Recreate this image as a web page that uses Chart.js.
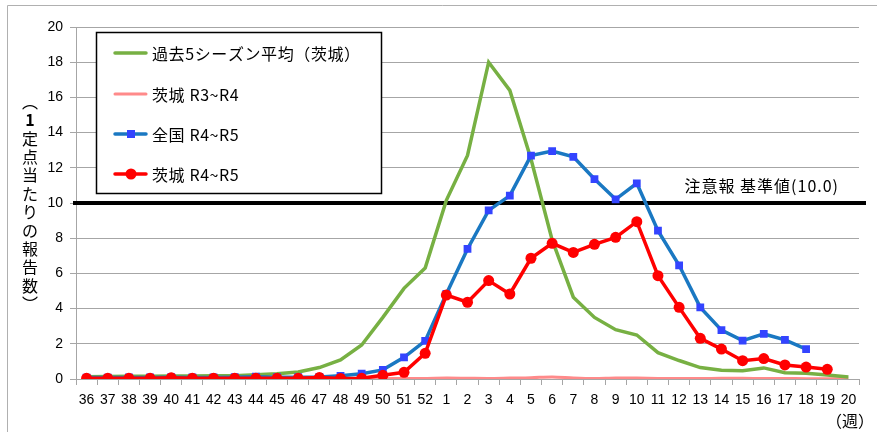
<!DOCTYPE html>
<html>
<head>
<meta charset="utf-8">
<script src="https://cdn.jsdelivr.net/npm/chart.js@4/dist/chart.umd.min.js"></script>
<style>
  html, body { margin: 0; padding: 0; background: #fff; }
  #wrap { position: relative; width: 877px; height: 432px; }
</style>
</head>
<body>
<div id="wrap"><canvas id="c" width="877" height="432"></canvas></div>
<script>
// Weeks of the season (week 36 to week 20 of the next year)
const weeks = ['36','37','38','39','40','41','42','43','44','45','46','47','48','49','50','51','52',
  '1','2','3','4','5','6','7','8','9','10','11','12','13','14','15','16','17','18','19','20'];

// Reports per sentinel site
const pastFiveAvg = [0.13,0.14,0.15,0.16,0.17,0.17,0.18,0.19,0.24,0.3,0.4,0.65,1.08,1.93,3.5,5.15,6.3,
  10.15,12.7,18.0,16.4,12.5,7.9,4.65,3.5,2.8,2.5,1.5,1.05,0.65,0.5,0.47,0.63,0.36,0.32,0.23,0.12];
const ibarakiR3R4 = [0.01,0.01,0.01,0.01,0.01,0.01,0.01,0.01,0.01,0.01,0.01,0.01,0.01,0.02,0.02,0.03,0.03,
  0.05,0.04,0.03,0.05,0.07,0.12,0.06,0.03,0.06,0.05,0.03,0.03,0.03,0.04,0.04,0.03,0.03,0.02,0.02,0.02];
const nationalR4R5 = [0.08,0.08,0.09,0.09,0.1,0.09,0.09,0.1,0.13,0.1,0.1,0.12,0.18,0.3,0.52,1.23,2.16,
  4.83,7.39,9.58,10.42,12.69,12.95,12.62,11.36,10.21,11.12,8.43,6.46,4.07,2.78,2.18,2.56,2.22,1.7,null,null];
const ibarakiR4R5 = [0.04,0.04,0.04,0.04,0.07,0.04,0.04,0.04,0.04,0.04,0.04,0.08,0.03,0.04,0.21,0.38,1.46,
  4.77,4.36,5.59,4.83,6.86,7.71,7.19,7.65,8.05,8.94,5.87,4.07,2.31,1.7,1.04,1.16,0.8,0.68,0.55,null];

const seriesNames = ['過去5シーズン平均（茨城）', '茨城 R3~R4', '全国 R4~R5', '茨城 R4~R5'];
const yTicks = [0, 2, 4, 6, 8, 10, 12, 14, 16, 18, 20];
const alertLevel = 10.0;
const alertLabel = '注意報 基準値(10.0)';
const yTitle = ['︵','1','定','点','当','た','り','の','報','告','数','︶'];
const xTitle = '（週）';

const JP = '"Noto Sans CJK JP", "Noto Sans", sans-serif';
const NUM = '"Liberation Sans", Arial, sans-serif';

const decor = {
  id: 'decor',
  beforeDraw(chart) {
    const ctx = chart.ctx;
    ctx.save();
    ctx.fillStyle = '#fff';
    ctx.fillRect(0, 0, chart.width, chart.height);
    // outer frame
    ctx.strokeStyle = '#b0b0b0';
    ctx.lineWidth = 1;
    ctx.beginPath();
    ctx.moveTo(7.5, chart.height);
    ctx.lineTo(7.5, 5.5);
    ctx.lineTo(chart.width, 5.5);
    ctx.stroke();
    ctx.restore();
  },
  beforeDatasetsDraw(chart) {
    const ctx = chart.ctx;
    const y = Math.round(chart.scales.y.getPixelForValue(alertLevel));
    const a = chart.chartArea;
    ctx.save();
    ctx.strokeStyle = '#000';
    ctx.lineWidth = 4;
    ctx.beginPath();
    ctx.moveTo(a.left - 3, y);
    ctx.lineTo(a.right + 7, y);
    ctx.stroke();
    ctx.fillStyle = '#000';
    ctx.font = '16px ' + JP;
    ctx.letterSpacing = '1px';
    ctx.textAlign = 'right';
    ctx.textBaseline = 'middle';
    ctx.fillText(alertLabel, a.right - 20, y - 17);
    ctx.restore();
  },
  afterDraw(chart) {
    const ctx = chart.ctx;
    const a = chart.chartArea;
    ctx.save();
    ctx.fillStyle = '#000';
    ctx.textAlign = 'center';
    ctx.textBaseline = 'middle';
    // vertical y-axis title
    const mid = (a.top + a.bottom) / 2;
    const step = 18.4;
    const y0 = mid - step * (yTitle.length - 1) / 2;
    yTitle.forEach((ch, i) => {
      ctx.font = (ch === '1' ? 'bold ' : '') + '16px ' + JP;
      ctx.fillText(ch, 30, y0 + i * step);
    });
    // x-axis title
    ctx.font = '16px ' + JP;
    ctx.textAlign = 'right';
    ctx.fillText(xTitle, 874, 421);

    // legend box
    const bx = 96, by = 32, bw = 285, bh = 161;
    ctx.fillStyle = '#fff';
    ctx.fillRect(bx, by, bw, bh);
    ctx.strokeStyle = '#000';
    ctx.lineWidth = 1.5;
    ctx.strokeRect(bx + 0.5, by + 0.5, bw, bh);
    const rows = [53, 94, 134, 174];
    ctx.letterSpacing = '0.6px';
    [0, 1, 2, 3].forEach((di, r) => {
      const ds = chart.data.datasets[di];
      const ry = rows[r];
      ctx.strokeStyle = ds.borderColor;
      ctx.lineWidth = ds.borderWidth;
      ctx.lineCap = 'round';
      ctx.beginPath();
      ctx.moveTo(115, ry);
      ctx.lineTo(146, ry);
      ctx.stroke();
      if (ds.pointRadius > 0) {
        ctx.fillStyle = ds.pointBackgroundColor;
        if (ds.pointStyle === 'rect') {
          ctx.fillRect(127, ry - 4, 8, 8);
        } else {
          ctx.beginPath();
          ctx.arc(131, ry, 5.5, 0, Math.PI * 2);
          ctx.fill();
        }
      }
      ctx.fillStyle = '#000';
      ctx.font = '16px ' + JP;
      ctx.textAlign = 'left';
      ctx.fillText(seriesNames[di], 152, ry + 1);
    });
    ctx.restore();
  }
};

new Chart(document.getElementById('c'), {
  type: 'line',
  data: {
    labels: weeks,
    datasets: [
      {
        label: seriesNames[0], data: pastFiveAvg, order: 3,
        borderColor: '#77b043', borderWidth: 3.5, pointRadius: 0, tension: 0
      },
      {
        label: seriesNames[1], data: ibarakiR3R4, order: 4,
        borderColor: '#ff8a8a', borderWidth: 3, pointRadius: 0, tension: 0.3
      },
      {
        label: seriesNames[2], data: nationalR4R5, order: 2,
        borderColor: '#1a78c2', borderWidth: 3.5, pointStyle: 'rect', pointRadius: 5.5,
        pointBackgroundColor: '#3344ff', pointBorderColor: '#3344ff', pointBorderWidth: 0, tension: 0
      },
      {
        label: seriesNames[3], data: ibarakiR4R5, order: 1,
        borderColor: '#ff0000', borderWidth: 3.5, pointStyle: 'circle', pointRadius: 5.5,
        pointBackgroundColor: '#ff0000', pointBorderColor: '#ff0000', pointBorderWidth: 0, tension: 0
      }
    ]
  },
  options: {
    responsive: false,
    animation: false,
    layout: { padding: { left: 0, top: 27, right: 18, bottom: 0 } },
    plugins: { legend: { display: false }, tooltip: { enabled: false } },
    scales: {
      x: {
        offset: true,
        grid: { display: true, drawOnChartArea: false, offset: true, tickLength: 6, color: '#a6a6a6' },
        border: { display: true, color: '#a6a6a6' },
        ticks: { color: '#000', font: { family: NUM, size: 14 }, maxRotation: 0, autoSkip: false, padding: 7 },
        afterFit(s) { s.height = 53; }
      },
      y: {
        min: 0, max: 20,
        afterBuildTicks(s) { s.ticks = yTicks.map(v => ({ value: v })); },
        grid: { color: '#a6a6a6', tickLength: 6 },
        border: { display: true, color: '#a6a6a6' },
        ticks: { color: '#000', font: { family: NUM, size: 14 }, padding: 7 },
        afterFit(s) { s.width = 76; }
      }
    }
  },
  plugins: [decor]
});
</script>
</body>
</html>
